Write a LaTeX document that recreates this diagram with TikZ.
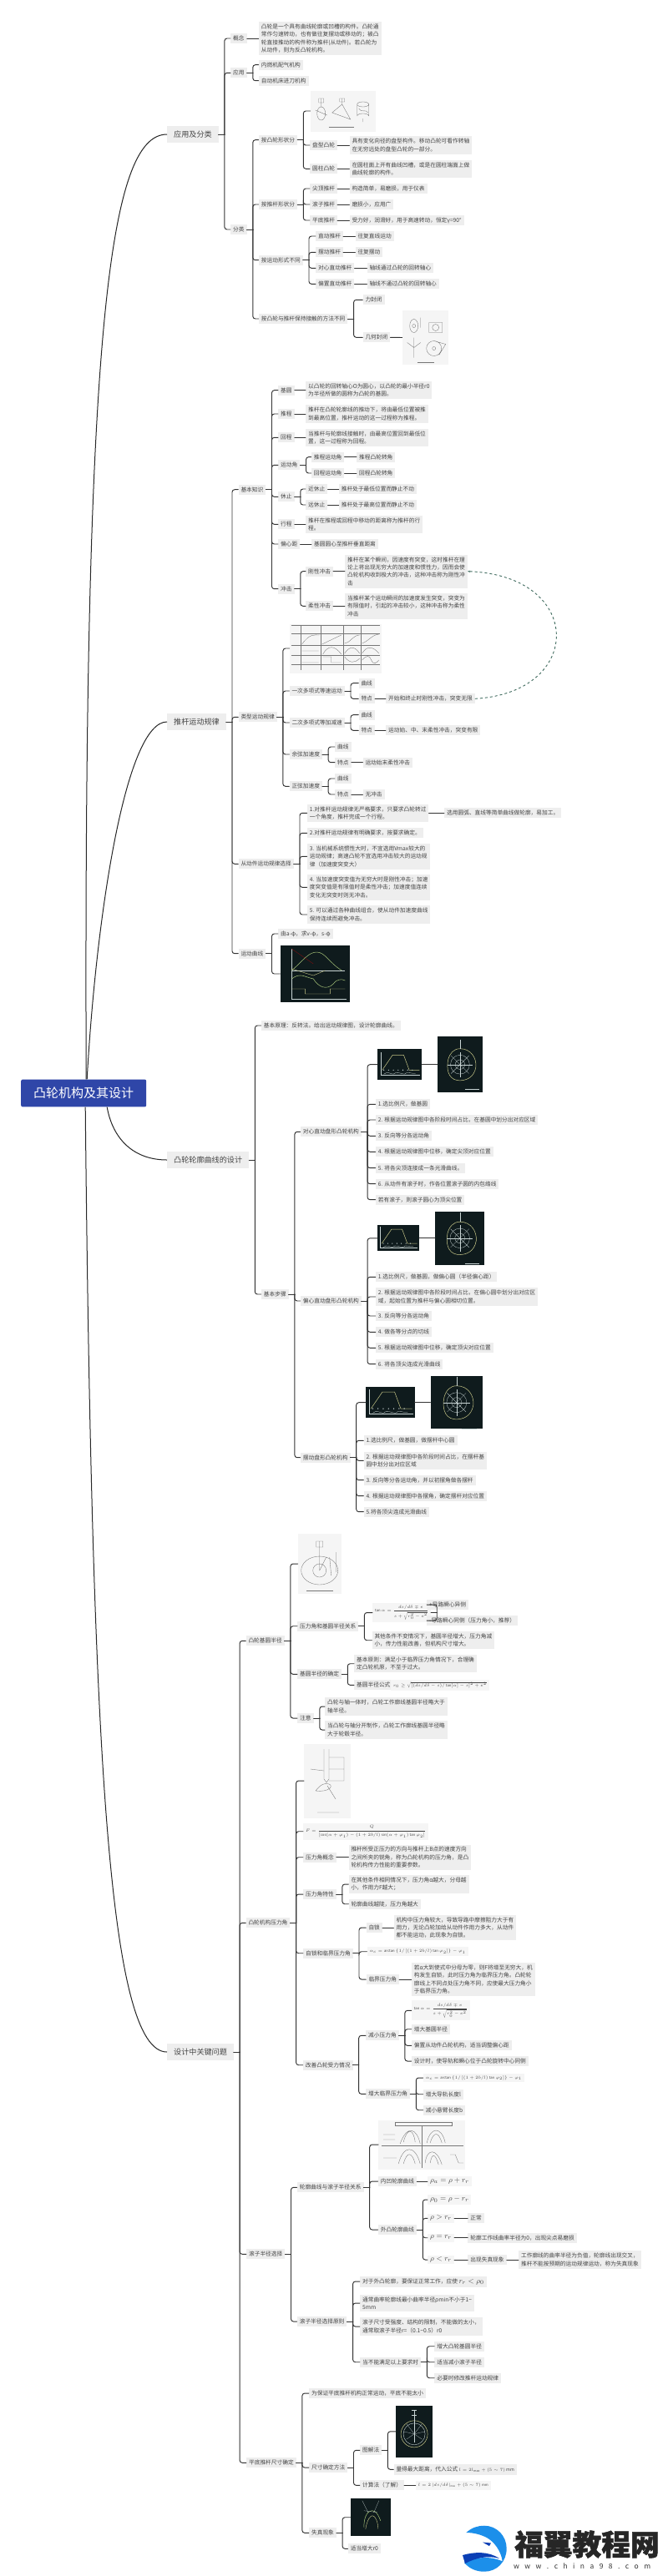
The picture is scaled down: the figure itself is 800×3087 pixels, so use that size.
\documentclass[tikz,border=0pt]{standalone}
\usepackage{amsmath}
\usepackage{fontspec}
\setmainfont{Noto Sans CJK SC}
\newfontfamily\markfont{Noto Sans CJK SC}[BoldFeatures={FakeBold=1.4}]
\usepackage{xcolor}
\usetikzlibrary{arrows.meta,calc}
\definecolor{ink}{HTML}{444444}
\definecolor{wire}{HTML}{333333}
\definecolor{cell}{HTML}{EEEEEE}
\definecolor{rootblue}{HTML}{2F46A8}
\definecolor{board}{HTML}{0F1B1D}
\definecolor{paper}{HTML}{F5F5F5}
\definecolor{chalkg}{HTML}{A9C77A}
\definecolor{chalky}{HTML}{C9C98A}
\definecolor{chalkw}{HTML}{C8D4D4}
\definecolor{pencil}{HTML}{777777}
\definecolor{linkteal}{HTML}{3F6B5E}
\definecolor{logoblue}{HTML}{1C8FEA}
\definecolor{logodark}{HTML}{0B3FB5}
\newcommand{\tfont}{\fontsize{6.7}{9.3}\selectfont}
\newcommand{\fan}[2]{\foreach \kid in {#2}{
  \draw[lnk] (#1.east) -- ++(7,0);
  \draw[lnk,rounded corners=3pt] (#1.east) ++(7,0) |- (\kid.west);}}
\newcommand{\leaf}[2]{\draw[lnk] (#1.east) -- (#2.west);}
% chalk pictures that come back several times
\newcommand{\motionsketch}[2]{\begin{scope}[shift={(#1.center)},x=#2pt,y=-#2pt]
  \draw[chalkw,line width=.3pt] (-24,-15) -- (-24,13) -- (26,13);
  \draw[chalky,line width=.5pt] (-22,7) -- (-9,-12) -- (5,-12) -- (12,7) -- (25,7);
  \foreach \dotx in {-20,-14,-8,-2,4,10,16}{\fill[chalkw] (\dotx,7) circle (.7);}
  \draw[chalkw,line width=.3pt] (-20,12) .. controls (-15,8) and (-12,12) .. (-8,12) .. controls (-4,8) and (2,12) .. (6,12) .. controls (10,8) and (14,12) .. (20,11);
\end{scope}}
\newcommand{\camsketch}[2]{\begin{scope}[shift={(#1.center)},x=#2pt,y=-#2pt]
  \draw[chalkw,line width=.3pt] (0,0) circle (12) (0,0) circle (6);
  \draw[chalky,line width=.5pt] (0,-20) .. controls (14,-20) and (21,-8) .. (20,3) .. controls (18,16) and (8,21) .. (-3,20) .. controls (-16,18) and (-17,4) .. (-15,-6) .. controls (-13,-14) and (-8,-20) .. (0,-20);
  \foreach \ang in {0,45,...,315}{\draw[chalkw,line width=.2pt] (0,0) -- (\ang:16);}
  \draw[chalkw,line width=.4pt] (0,-31) -- (0,-20);
  \draw[chalkw,line width=.3pt] (6,31) -- (24,31);
\end{scope}}
\begin{document}
\begin{tikzpicture}[x=1pt,y=-1pt,
  txt/.style={anchor=west,xshift=-3pt,fill=cell,text=ink,font=\tfont,align=left,inner xsep=3pt,inner ysep=2.8pt},
  topic/.style={anchor=west,fill=cell,text=ink,font=\fontsize{9.1}{11}\selectfont,inner xsep=8pt,inner ysep=5.5pt},
  frm/.style={txt,fill=paper,font=\fontsize{4.2}{5}\selectfont},
  rho/.style={txt,fill=paper,font=\fontsize{9.5}{11}\selectfont,inner ysep=2pt},
  shot/.style={anchor=west,inner sep=0pt,fill=board},
  plate/.style={anchor=west,inner sep=0pt,fill=paper},
  lnk/.style={draw=wire,line width=.95pt,line cap=round},
  rootlnk/.style={draw=black!85,line width=1pt},
  chalk/.style={line width=.4pt},
  pen/.style={draw=pencil,line width=.35pt},
]
\useasboundingbox (0,0) rectangle (800,3087);
\fill[white] (0,0) rectangle (800,3087);

%% root and main branches
\node[anchor=west,fill=rootblue,text=white,rounded corners=2pt,font=\fontsize{15}{18}\selectfont,inner xsep=15pt,inner ysep=9.5pt] (root) at (25,1310) {凸轮机构及其设计};
\node[topic] (appl) at (200,161) {应用及分类};
\node[topic] (law) at (200,865) {推杆运动规律};
\node[topic] (prof) at (200,1390) {凸轮轮廓曲线的设计};
\node[topic] (keys) at (200,2459) {设计中关键问题};
\draw[rootlnk] ($(root.north)+(3,0)$) .. controls (100,400) and (130,161) .. (appl.west);
\draw[rootlnk] ($(root.north)+(4,0)$) .. controls (115,1100) and (150,865) .. (law.west);
\draw[rootlnk] ($(root.south)+(28,0)$) .. controls (135,1365) and (160,1390) .. (prof.west);
\draw[rootlnk] ($(root.south)+(2,0)$) .. controls (110,2100) and (130,2459) .. (keys.west);

%% application and classes
\node[txt] (concept) at (279,46) {概念};
\node[txt] (conceptT) at (312.7,46) {凸轮是一个具有曲线轮廓或凹槽的构件。凸轮通\\常作匀速转动，也有做往复摆动或移动的；被凸\\轮直接推动的构件称为推杆(从动件)。若凸轮为\\从动件，则为反凸轮机构。};
\node[txt] (use) at (279,87.3) {应用};
\node[txt] (useA) at (312.7,77.7) {内燃机配气机构};
\node[txt] (useB) at (312.7,96.7) {自动机床进刀机构};
\node[txt] (kinds) at (279,275) {分类};
\node[txt] (byCam) at (312.7,167.7) {按凸轮形状分};
\node[txt] (byRod) at (312.7,245) {按推杆形状分};
\node[txt] (byMove) at (312.7,311.7) {按运动形式不同};
\node[txt] (byHold) at (312.7,382) {按凸轮与推杆保持接触的方法不同};
\node[plate,minimum width=77.6,minimum height=49] (camPic) at (371.7,133) {};
\node[txt] (disc) at (374,174) {盘型凸轮};
\node[txt] (discT) at (421.3,174) {具有变化向径的盘型构件。移动凸轮可看作转轴\\在无穷远处的盘型凸轮的一部分。};
\node[txt] (barrel) at (374,202.3) {圆柱凸轮};
\node[txt] (barrelT) at (421.3,202.3) {在圆柱面上开有曲线凹槽，或是在圆柱端面上做\\曲线轮廓的构件。};
\node[txt] (tip) at (374,226) {尖顶推杆};
\node[txt] (tipT) at (421.3,226) {构造简单，易磨损，用于仪表};
\node[txt] (roll) at (374,245) {滚子推杆};
\node[txt] (rollT) at (421.3,245) {磨损小，应用广};
\node[txt] (flat) at (374,264) {平底推杆};
\node[txt] (flatT) at (421.3,264) {受力好，润滑好，用于高速转动，恒定γ=90°};
\node[txt] (slide) at (381,283) {直动推杆};
\node[txt] (slideT) at (428.3,283) {往复直线运动};
\node[txt] (swing) at (381,302.3) {摆动推杆};
\node[txt] (swingT) at (428.3,302.3) {往复摆动};
\node[txt] (center) at (381,321.3) {对心直动推杆};
\node[txt] (centerT) at (442.3,321.3) {轴线通过凸轮的回转轴心};
\node[txt] (offset) at (381,340.3) {偏置直动推杆};
\node[txt] (offsetT) at (442.3,340.3) {轴线不通过凸轮的回转轴心};
\node[txt] (force) at (437.3,359.3) {力封闭};
\node[txt] (shape) at (437.3,404.3) {几何封闭};
\node[plate,minimum width=55,minimum height=65.6] (shapePic) at (481.7,404.5) {};
\fan{appl}{concept,use,kinds}
\leaf{concept}{conceptT}
\fan{use}{useA,useB}
\fan{kinds}{byCam,byRod,byMove,byHold}
\fan{byCam}{camPic,disc,barrel}
\leaf{disc}{discT}
\leaf{barrel}{barrelT}
\fan{byRod}{tip,roll,flat}
\leaf{tip}{tipT}
\leaf{roll}{rollT}
\leaf{flat}{flatT}
\fan{byMove}{slide,swing,center,offset}
\leaf{slide}{slideT}
\leaf{swing}{swingT}
\leaf{center}{centerT}
\leaf{offset}{offsetT}
\fan{byHold}{force,shape}
\leaf{shape}{shapePic}
% cam types
\begin{scope}[shift={(camPic.west)}]
  \draw[pen] (13,3) ellipse (5 and 8) (13,-5) -- (13,-15) (10,-15) rectangle (16,-10) (6,-1) -- (20,5);
  \draw[pen] (26,2) -- (38,-8) -- (48,10) -- cycle (38,-8) -- (38,-15) (35,-15) rectangle (41,-11);
  \draw[pen] (63,-8) ellipse (7 and 3) (56,-8) -- (56,6) (70,-8) -- (70,6) (56,6) arc (180:360:7 and 3) (63,9) -- (63,13) (58,-3) .. controls (62,3) and (66,-3) .. (69,2);
  \draw[pen] (22,19) -- (52,19);
\end{scope}
% closing types
\begin{scope}[shift={(shapePic.west)}]
  \draw[pen] (14,-14) ellipse (5 and 8) (14,-14) circle (2) (22,-24) -- (22,-12);
  \draw[pen] (32,-18) rectangle (48,-6) (40,-12) circle (4);
  \draw[pen] (14,12) -- (6,6) (14,12) -- (22,6) (14,12) -- (14,24) (14,0) -- (14,12);
  \draw[pen] (38,13) circle (9) (38,13) circle (2) (38,4) -- (52,8) -- (44,21);
  \draw[pen] (18,30) -- (38,30);
\end{scope}

%% follower motion law
\node[txt] (basics) at (288.3,586.7) {基本知识};
\node[txt] (types) at (288.3,859.3) {类型运动规律};
\node[txt] (select) at (288.3,1035.3) {从动件运动规律选择};
\node[txt] (curves) at (288.3,1142.7) {运动曲线};
\node[txt] (circle) at (336,467.7) {基圆};
\node[txt] (circleT) at (369,467.7) {以凸轮的回转轴心O为圆心，以凸轮的最小半径r0\\为半径所做的圆称为凸轮的基圆。};
\node[txt] (rise) at (336,496) {推程};
\node[txt] (riseT) at (369,496) {推杆在凸轮轮廓线的推动下，将由最低位置被推\\到最高位置，推杆运动的这一过程称为推程。};
\node[txt] (back) at (336,524.3) {回程};
\node[txt] (backT) at (369,524.3) {当推杆与轮廓线接触时，由最高位置回到最低位\\置，这一过程称为回程。};
\node[txt] (angle) at (336,557.3) {运动角};
\node[txt] (angRise) at (375.7,547.7) {推程运动角};
\node[txt] (angRiseT) at (430,547.7) {推程凸轮转角};
\node[txt] (angBack) at (375.7,567) {回程运动角};
\node[txt] (angBackT) at (430,567) {回程凸轮转角};
\node[txt] (dwell) at (336,595.3) {休止};
\node[txt] (near) at (369,586) {近休止};
\node[txt] (nearT) at (408.7,586) {推杆处于最低位置而静止不动};
\node[txt] (far) at (369,605) {远休止};
\node[txt] (farT) at (408.7,605) {推杆处于最高位置而静止不动};
\node[txt] (stroke) at (336,628.3) {行程};
\node[txt] (strokeT) at (369,628.3) {推杆在推程或回程中移动的距离称为推杆的行\\程。};
\node[txt] (ecc) at (336,652) {偏心距};
\node[txt] (eccT) at (376,652) {基圆圆心至推杆垂直距离};
\node[txt] (shock) at (336,705.7) {冲击};
\node[txt] (rigid) at (369,684.7) {刚性冲击};
\node[txt] (rigidT) at (416,684.7) {推杆在某个瞬间，因速度有突变，这时推杆在理\\论上将出现无穷大的加速度和惯性力，因而会使\\凸轮机构收到极大的冲击，这种冲击称为刚性冲\\击};
\node[txt] (soft) at (369,726.3) {柔性冲击};
\node[txt] (softT) at (416,726.3) {当推杆某个运动瞬间的加速度发生突变，突变为\\有限值时，引起的冲击较小，这种冲击称为柔性\\冲击};
\node[plate,minimum width=110,minimum height=59] (lawTable) at (346.7,777) {};
\node[txt] (poly) at (349.3,828) {一次多项式等速运动};
\node[txt] (polyA) at (432.3,818.7) {曲线};
\node[txt] (polyB) at (432.3,837.3) {特点};
\node[txt] (polyT) at (465,837.3) {开始和终止时刚性冲击，突变无限};
\node[txt] (quad) at (349.3,866) {二次多项式等加减速};
\node[txt] (quadA) at (432.3,856.7) {曲线};
\node[txt] (quadB) at (432.3,875.3) {特点};
\node[txt] (quadT) at (465,875.3) {运动始、中、末柔性冲击，突变有限};
\node[txt] (cosine) at (349.3,904) {余弦加速度};
\node[txt] (cosA) at (404,895) {曲线};
\node[txt] (cosB) at (404,913.7) {特点};
\node[txt] (cosT) at (437.3,913.7) {运动始末柔性冲击};
\node[txt] (sine) at (349.3,942.3) {正弦加速度};
\node[txt] (sinA) at (404,933) {曲线};
\node[txt] (sinB) at (404,952) {特点};
\node[txt] (sinT) at (437.3,952) {无冲击};
\node[txt] (selA) at (370.7,974.3) {1.对推杆运动规律无严格要求，只要求凸轮转过\\一个角度，推杆完成一个行程。};
\node[txt] (selAT) at (535,974.3) {选用圆弧、直线等简单曲线做轮廓，易加工。};
\node[txt] (selB) at (370.7,998.3) {2.对推杆运动规律有明确要求，按要求确定。};
\node[txt] (selC) at (370.7,1026.3) {3. 当机械系统惯性大时，不宜选用Vmax较大的\\运动规律；高速凸轮不宜选用冲击较大的运动规\\律（加速度突变大）};
\node[txt] (selD) at (370.7,1063.3) {4. 当加速度突变值为无穷大时是刚性冲击；加速\\度突变值是有限值时是柔性冲击；加速度值连续\\变化无突变时则无冲击。};
\node[txt] (selE) at (370.7,1096) {5. 可以通过各种曲线组合，使从动件加速度曲线\\保持连续而避免冲击。};
\node[txt] (curveT) at (336,1119) {由a-φ，求v-φ，s-φ};
\node[shot,minimum width=83,minimum height=67.4] (curvePic) at (335.3,1167) {};
\fan{law}{basics,types,select,curves}
\fan{basics}{circle,rise,back,angle,dwell,stroke,ecc,shock}
\leaf{circle}{circleT}
\leaf{rise}{riseT}
\leaf{back}{backT}
\fan{angle}{angRise,angBack}
\leaf{angRise}{angRiseT}
\leaf{angBack}{angBackT}
\fan{dwell}{near,far}
\leaf{near}{nearT}
\leaf{far}{farT}
\leaf{stroke}{strokeT}
\leaf{ecc}{eccT}
\fan{shock}{rigid,soft}
\leaf{rigid}{rigidT}
\leaf{soft}{softT}
\fan{types}{lawTable,poly,quad,cosine,sine}
\fan{poly}{polyA,polyB}
\leaf{polyB}{polyT}
\fan{quad}{quadA,quadB}
\leaf{quadB}{quadT}
\fan{cosine}{cosA,cosB}
\leaf{cosB}{cosT}
\fan{sine}{sinA,sinB}
\leaf{sinB}{sinT}
\fan{select}{selA,selB,selC,selD,selE}
\leaf{selA}{selAT}
\fan{curves}{curveT,curvePic}
\draw[linkteal,line width=.9pt,dashed,-{Stealth[length=3pt]}] (polyT.east) .. controls (700,830) and (700,690) .. (rigidT.east);
% table of motion laws
\begin{scope}[shift={(lawTable.west)}]
  \draw[pen] (2,-28) -- (108,-28) (2,-18) -- (108,-18) (2,-4) -- (108,-4) (2,8) -- (108,8) (2,19) -- (108,19);
  \foreach \colx in {13,37,64,85}{\draw[pen] (\colx,-28) -- (\colx,26);}
  \draw[pen] (15,-5) .. controls (24,-18) and (30,-16) .. (36,-16) (39,-5) -- (62,-16) (66,-6) .. controls (72,-6) and (76,-16) .. (84,-16) (87,-6) .. controls (94,-8) and (98,-16) .. (107,-17);
  \draw[pen] (15,3) -- (35,3) (40,7) .. controls (46,-4) and (54,-4) .. (62,7) (66,6) .. controls (72,-3) and (78,-3) .. (84,6) (87,6) .. controls (92,-3) and (100,-3) .. (107,6);
  \draw[pen] (15,17) -- (35,17) (40,10) -- (50,10) -- (50,17) -- (62,17) (66,10) .. controls (72,18) and (78,18) .. (84,12) (87,14) .. controls (92,8) and (96,8) .. (98,14) .. controls (100,20) and (104,18) .. (107,14);
\end{scope}
% chalk plot of the motion curves
\begin{scope}[shift={(curvePic.west)}]
  \draw[chalkw,chalk] (14,-30) -- (14,30) -- (80,30) (14,-4) -- (78,-4);
  \draw[chalkg,line width=.5pt] (14,-4) .. controls (28,-16) and (34,-26) .. (44,-26) .. controls (54,-26) and (58,-14) .. (74,-4);
  \draw[chalkg,line width=.5pt] (14,6) .. controls (24,-2) and (30,4) .. (40,6) .. controls (46,16) and (56,20) .. (64,12) .. controls (68,6) and (74,6) .. (78,8);
  \draw[chalky,chalk] (14,-6) -- (40,2) -- (54,-4) (14,18) -- (30,18) -- (30,24) -- (60,24) -- (60,18) -- (78,18);
  \draw[red!45!board,chalk] (14,-30) -- (40,-12);
\end{scope}

%% profile design
\node[txt] (theory) at (315.7,1229) {基本原理：反转法。给出运动规律图，设计轮廓曲线。};
\node[txt] (steps) at (315.7,1551) {基本步骤};
\node[txt] (mechA) at (362.7,1356.3) {对心直动盘形凸轮机构};
\node[txt] (mechB) at (362.7,1559) {偏心直动盘形凸轮机构};
\node[txt] (mechC) at (362.7,1746.7) {摆动盘形凸轮机构};
\node[shot,minimum width=53,minimum height=36.7] (motA) at (452,1275.7) {};
\node[shot,minimum width=54,minimum height=67] (camA) at (523.7,1275.7) {};
\node[txt] (aOne) at (452.7,1323.3) {1.选比例尺，做基圆};
\node[txt] (aTwo) at (452.7,1342) {2. 根据运动规律图中各阶段时间占比，在基圆中划分出对应区域};
\node[txt] (aThree) at (452.7,1361.3) {3. 反向等分各运动角};
\node[txt] (aFour) at (452.7,1380.3) {4. 根据运动规律图中位移，确定尖顶对应位置};
\node[txt] (aFive) at (452.7,1399.7) {5. 将各尖顶连接成一条光滑曲线。};
\node[txt] (aSix) at (452.7,1418.7) {6. 从动件有滚子时，作各位置滚子圆的内包络线};
\node[txt] (aSeven) at (452.7,1437.7) {若有滚子，则滚子圆心为顶尖位置};
\node[shot,minimum width=49.7,minimum height=31] (motB) at (452,1483.8) {};
\node[shot,minimum width=59,minimum height=63.4] (camB) at (521,1483.8) {};
\node[txt] (bOne) at (452.7,1530.3) {1.选比例尺，做基圆，做偏心圆（半径偏心距）};
\node[txt] (bTwo) at (452.7,1554) {2. 根据运动规律图中各阶段时间占比，在偏心圆中划分出对应区\\域，起始位置为推杆与偏心圆相切位置。};
\node[txt] (bThree) at (452.7,1577) {3. 反向等分各运动角};
\node[txt] (bFour) at (452.7,1596.3) {4. 做各等分点的切线};
\node[txt] (bFive) at (452.7,1615.3) {5. 根据运动规律图中位移，确定顶尖对应位置};
\node[txt] (bSix) at (452.7,1634.7) {6. 将各顶尖连成光滑曲线};
\node[shot,minimum width=58.3,minimum height=36.7] (motC) at (438,1680.7) {};
\node[shot,minimum width=62.7,minimum height=62.7] (camC) at (515.3,1680.7) {};
\node[txt] (cOne) at (438.3,1726.3) {1.选比例尺，做基圆，做摆杆中心圆};
\node[txt] (cTwo) at (438.3,1750.3) {2. 根据运动规律图中各阶段时间占比，在摆杆基\\圆中划分出对应区域};
\node[txt] (cThree) at (438.3,1773.7) {3. 反向等分各运动角，并以初摆角做各摆杆};
\node[txt] (cFour) at (438.3,1792.7) {4. 根据运动规律图中各摆角，确定摆杆对应位置};
\node[txt] (cFive) at (438.3,1811.7) {5.将各顶尖连成光滑曲线};
\fan{prof}{theory,steps}
\fan{steps}{mechA,mechB,mechC}
\fan{mechA}{motA,aOne,aTwo,aThree,aFour,aFive,aSix,aSeven}
\leaf{motA}{camA}
\fan{mechB}{motB,bOne,bTwo,bThree,bFour,bFive,bSix}
\leaf{motB}{camB}
\fan{mechC}{motC,cOne,cTwo,cThree,cFour,cFive}
\leaf{motC}{camC}
\motionsketch{motA}{.95}
\motionsketch{motB}{.9}
\motionsketch{motC}{1.05}
\camsketch{camA}{.95}
\camsketch{camB}{.98}
\camsketch{camC}{1}

%% key design problems
\node[txt] (radius) at (297.3,1966.3) {凸轮基圆半径};
\node[txt] (press) at (297.3,2304.3) {凸轮机构压力角};
\node[txt] (roller) at (297.9,2701.3) {滚子半径选择};
\node[txt] (plain) at (297.9,2951.3) {平底推杆尺寸确定};
\node[plate,minimum width=52.3,minimum height=72.4] (radPic) at (356.7,1874) {};
\node[txt] (radRel) at (359,1948.7) {压力角和基圆半径关系};
\node[frm,minimum height=21.6,minimum width=50.7] (tanA) at (449,1932.5) {$\tan\alpha=\dfrac{ds/d\delta\mp e}{s+\sqrt{r_0^2-e^2}}$};
\node[txt] (sideA) at (514,1923) {+导路瞬心异侧};
\node[txt] (sideB) at (514,1942) {-导路瞬心同侧（压力角小，推荐）};
\node[txt] (radMore) at (448.3,1965.7) {其他条件不变情况下，基圆半径增大，压力角减\\小，传力性能改善，但机构尺寸增大。};
\node[txt] (radSet) at (359,2006.3) {基圆半径的确定};
\node[txt] (rule) at (427,1993.7) {基本原则：满足小于临界压力角情况下，合理确\\定凸轮机原，不至于过大。};
\node[txt] (radF) at (427,2019.3) {基圆半径公式};
\node[frm,anchor=west,xshift=0pt] (radFm) at (radF.east) {$r_0\ge\sqrt{\left[(ds/d\delta-s)/\tan[\alpha]-s\right]^2+e^2}$};
\node[txt] (note) at (359,2059) {注意};
\node[txt] (noteA) at (392,2045) {凸轮与轴一体时，凸轮工作廓线基圆半径略大于\\轴半径。};
\node[txt] (noteB) at (392,2073) {当凸轮与轴分开制作，凸轮工作廓线基圆半径略\\大于轮毂半径。};
\fan{keys}{radius,press,roller,plain}
\fan{radius}{radPic,radRel,radSet,note}
\fan{radRel}{tanA,radMore}
\fan{tanA}{sideA,sideB}
\fan{radSet}{rule,radF}
\fan{note}{noteA,noteB}
% cam and pressure angle
\begin{scope}[shift={(radPic.west)}]
  \draw[pen] (26,8) ellipse (22 and 17) (26,8) circle (8) (26,-27) -- (26,8) (22,-27) rectangle (30,-20);
  \draw[pen] (26,8) -- (34,-8) (38,-8) -- (40,14) (46,-14) -- (46,10);
  \draw[pen] (10,32) -- (42,32);
\end{scope}
\node[plate,minimum width=55.3,minimum height=89] (forcePic) at (364,2134) {};
\node[frm,minimum height=17.3] (forceFm) at (366,2194.7) {$F=\dfrac{Q}{[\cos(\alpha+\varphi_1)-(1+2b/l)\sin(\alpha+\varphi_1)\tan\varphi_2]}$};
\node[txt] (pConcept) at (366,2225.7) {压力角概念};
\node[txt] (pConceptT) at (420.3,2225.7) {推杆所受正压力的方向与推杆上B点的速度方向\\之间所夹的锐角，称为凸轮机构的压力角，是凸\\轮机构传力性能的重要参数。};
\node[txt] (pTrait) at (366,2270) {压力角特性};
\node[txt] (pTraitA) at (420.3,2258) {在其他条件相同情况下，压力角α越大，分母越\\小，作用力F越大；};
\node[txt] (pTraitB) at (420.3,2281.7) {轮廓曲线越陡，压力角越大};
\node[txt] (pLock) at (366,2340.7) {自锁和临界压力角};
\node[txt] (lock) at (441.3,2310) {自锁};
\node[txt] (lockT) at (474.3,2310) {机构中压力角较大，导致导路中摩擦阻力大于有\\用力，无论凸轮加给从动件作用力多大，从动件\\都不能运动，此现象为自锁。};
\node[frm] (lockF) at (442.3,2338.7) {$\alpha_c=\arctan\left\{1/\left[(1+2b/l)\tan\varphi_2\right]\right\}-\varphi_1$};
\node[txt] (crit) at (441.3,2372) {临界压力角};
\node[txt] (critT) at (495.7,2372) {若α大到使式中分母为零，则F将增至无穷大，机\\构发生自锁，此时压力角为临界压力角。凸轮轮\\廓线上不同点处压力角不同，应使最大压力角小\\于临界压力角。};
\node[txt] (pBetter) at (365.7,2474.7) {改善凸轮受力情况};
\node[txt] (lower) at (441,2439.3) {减小压力角};
\node[frm,minimum height=20] (lowerF) at (495.7,2409.3) {$\tan\alpha=\dfrac{ds/d\delta\mp e}{s+\sqrt{r_0^2-e^2}}$};
\node[txt] (lowerA) at (495.7,2431.7) {增大基圆半径};
\node[txt] (lowerB) at (495.7,2451.3) {偏置从动件凸轮机构，适当调整偏心距};
\node[txt] (lowerC) at (495.7,2470) {设计时，使导轨和瞬心位于凸轮旋转中心同侧};
\node[txt] (raise) at (441,2509.3) {增大临界压力角};
\node[frm] (raiseF) at (509.6,2490) {$\alpha_c=\arctan\left\{1/\left[(1+2b/l)\tan\varphi_2\right]\right\}-\varphi_1$};
\node[txt] (raiseA) at (509.6,2509.7) {增大导轨长度l};
\node[txt] (raiseB) at (509.6,2528.7) {减小悬臂长度b};
\fan{press}{forcePic,forceFm,pConcept,pTrait,pLock,pBetter}
\leaf{pConcept}{pConceptT}
\fan{pTrait}{pTraitA,pTraitB}
\fan{pLock}{lock,lockF,crit}
\leaf{lock}{lockT}
\leaf{crit}{critT}
\fan{pBetter}{lower,raise}
\fan{lower}{lowerF,lowerA,lowerB,lowerC}
\fan{raise}{raiseF,raiseA,raiseB}
% follower on a cam
\begin{scope}[shift={(forcePic.west)}]
  \draw[pen] (24,-38) -- (24,-2) (30,-38) -- (30,-2) (24,-2) -- (27,2) -- (30,-2);
  \draw[pen] (14,12) .. controls (20,4) and (26,2) .. (30,4) .. controls (36,6) and (30,14) .. (14,12);
  \draw[pen] (30,-28) -- (48,-28) (48,-28) -- (48,0) (30,-14) -- (48,-14) (30,0) -- (48,0) (8,-14) -- (24,-12);
  \draw[pen] (28,6) -- (38,22) (16,38) -- (42,38);
\end{scope}
\node[plate,minimum width=104,minimum height=59] (rollPic) at (453.2,2570) {};
\node[txt] (rollRel) at (358.6,2621.3) {轮廓曲线与滚子半径关系};
\node[txt] (inner) at (455.7,2614) {内凹轮廓曲线};
\node[rho] (innerF) at (515,2614) {$\rho_a=\rho+r_r$};
\node[txt] (outer) at (455.7,2672) {外凸轮廓曲线};
\node[rho] (outerA) at (515,2636) {$\rho_0=\rho-r_r$};
\node[rho] (outerB) at (515,2658.3) {$\rho>r_r$};
\node[txt] (outerBT) at (563.2,2658.3) {正常};
\node[rho] (outerC) at (515,2681.7) {$\rho=r_r$};
\node[txt] (outerCT) at (563.2,2681.7) {轮廓工作线曲率半径为0，出现尖点易磨损};
\node[rho] (outerD) at (515,2708) {$\rho<r_r$};
\node[txt] (outerDT) at (563.2,2708) {出现失真现象};
\node[txt] (outerDX) at (623.9,2708) {工作廓线的曲率半径为负值，轮廓线出现交叉，\\推杆不能按预期的运动规律运动，称为失真现象};
\node[txt] (rollSel) at (358.6,2782) {滚子半径选择原则};
\node[txt] (selOne) at (433.9,2734) {对于外凸轮廓，要保证正常工作，应使 {\fontsize{9.5}{9.3}\selectfont$r_r<\rho_0$}};
\node[txt] (selTwo) at (433.9,2760) {通常曲率轮廓线最小曲率半径ρmin不小于1\textasciitilde\\5mm};
\node[txt] (selThree) at (433.9,2788) {滚子尺寸受强度、结构的限制，不能做的太小，\\通常取滚子半径r=（0.1\textasciitilde 0.5）r0};
\node[txt] (selFour) at (433.9,2830.7) {当不能满足以上要求时};
\node[txt] (fourA) at (523.2,2811.7) {增大凸轮基圆半径};
\node[txt] (fourB) at (523.2,2830.7) {适当减小滚子半径};
\node[txt] (fourC) at (523.2,2849.7) {必要时修改推杆运动规律};
\fan{roller}{rollRel,rollSel}
\fan{rollRel}{rollPic,inner,outer}
\leaf{inner}{innerF}
\fan{outer}{outerA,outerB,outerC,outerD}
\leaf{outerB}{outerBT}
\leaf{outerC}{outerCT}
\leaf{outerD}{outerDT}
\leaf{outerDT}{outerDX}
\fan{rollSel}{selOne,selTwo,selThree,selFour}
\fan{selFour}{fourA,fourB,fourC}
% roller profiles
\begin{scope}[shift={(rollPic.west)}]
  \draw[pen] (20,-27) rectangle (88,-23) (52,-22) -- (52,28) (4,1) -- (102,1);
  \draw[pen] (30,-3) .. controls (34,-20) and (42,-20) .. (44,-3) (26,-1) .. controls (34,-24) and (46,-20) .. (50,-1);
  \draw[pen] (58,-2) .. controls (62,-22) and (76,-22) .. (80,-2) (62,-2) .. controls (66,-16) and (72,-16) .. (76,-2);
  \draw[pen] (24,23) .. controls (30,0) and (44,0) .. (50,23) (30,23) .. controls (34,8) and (40,8) .. (44,23);
  \draw[pen] (56,22) .. controls (58,4) and (70,4) .. (76,24) (62,22) .. controls (64,10) and (68,10) .. (72,24);
  \draw[pen] (86,12) -- (92,12) -- (96,22) -- (102,22) (6,-12) -- (20,-12) (6,-6) -- (20,-6) (6,16) -- (22,16);
\end{scope}
\node[txt] (plainA) at (372.9,2868) {为保证平底推杆机构正常运动，平底不能太小};
\node[txt] (plainB) at (372.9,2957) {尺寸确定方法};
\node[txt] (chart) at (433.9,2936.3) {图解法};
\node[shot,minimum width=44,minimum height=62.3] (chartPic) at (473.9,2913.8) {};
\node[txt] (chartT) at (474.3,2959.3) {量得最大距离，代入公式 {\fontsize{5.2}{6}\selectfont$l=2l_{\max}+(5\sim7)\,\mathrm{mm}$}};
\node[txt] (calc) at (433.9,2978.3) {计算法（了解）};
\node[frm] (calcF) at (500.7,2978.3) {$l=2\,|ds/d\delta|_{\max}+(5\sim7)\,\mathrm{mm}$};
\node[txt] (plainC) at (372.9,3035.3) {失真现象};
\node[shot,minimum width=48,minimum height=45.3] (lossPic) at (419.6,3016.7) {};
\node[txt] (lossT) at (419.6,3054.3) {适当增大r0};
\fan{plain}{plainA,plainB,plainC}
\fan{plainB}{chart,calc}
\fan{chart}{chartPic,chartT}
\leaf{calc}{calcF}
\fan{plainC}{lossPic,lossT}
\begin{scope}[shift={(chartPic.center)}]
  \draw[chalky,line width=.5pt] (0,3) circle (16);
  \draw[chalkw,chalk] (0,3) circle (13);
  \foreach \ang in {0,45,...,315}{\draw[chalkw,line width=.2pt] (0,3) -- (\ang:13);}
  \draw[chalkw,chalk] (0,-26) -- (0,-13) (-3,-26) -- (3,-26) (-3,-20) -- (3,-20);
\end{scope}
\begin{scope}[shift={(lossPic.center)}]
  \draw[chalkg,line width=.5pt] (-8,12) .. controls (-8,-2) and (-3,-8) .. (2,-8) .. controls (8,-8) and (10,0) .. (12,4);
  \draw[chalky,chalk] (-6,14) .. controls (-4,2) and (0,-2) .. (2,-2) .. controls (6,-2) and (9,6) .. (9,14);
  \draw[chalkw,line width=.2pt] (-10,-20) -- (-3,-6) (10,-20) -- (4,-6) (-8,-8) -- (8,-6);
\end{scope}

%% site mark
\begin{scope}[shift={(540,3010)}]
  \fill[logoblue] (18.3,25) .. controls (25,19) and (32,16.7) .. (40,16.7) .. controls (55,16.7) and (66.7,29) .. (66.7,44) .. controls (66.7,60) and (55,71.7) .. (40,71.7) .. controls (30,71.7) and (22,68) .. (16,61) .. controls (28,55) and (45,52) .. (61.7,59.3) .. controls (60,47) and (52,36) .. (43,31) .. controls (35,27) and (27,25) .. (18.3,25) -- cycle;
  \fill[logodark] (14,52) .. controls (28,48) and (45,47) .. (58,56) .. controls (45,52) and (30,55) .. (17,62) -- cycle;
  \fill[logodark] (38,36.5) -- (48,37.5) -- (46,41) -- cycle;
  \node[anchor=west,font=\fontsize{34.7}{36}\markfont\bfseries,text=black!85,inner sep=0pt] (markName) at (76,39) {福翼教程网};
  \node[anchor=west,font=\fontsize{8.5}{10}\selectfont,text=black!80,inner sep=0pt] (markUrl) at (75,65) {\makebox[164pt][s]{w\hfill w\hfill w\hfill .\hfill c\hfill h\hfill i\hfill n\hfill a\hfill 9\hfill 8\hfill .\hfill c\hfill o\hfill m}};
\end{scope}
\end{tikzpicture}
\end{document}
